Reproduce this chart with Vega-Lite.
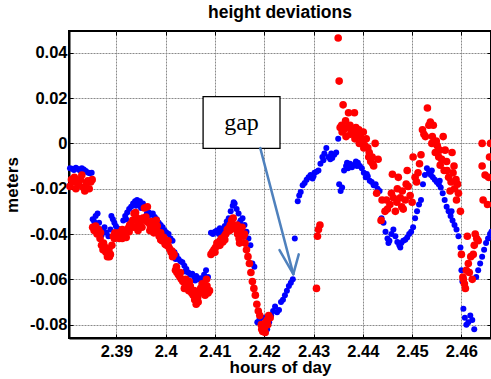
{
 "$schema": "https://vega.github.io/schema/vega-lite/v6.json",
 "width": 422, "height": 307,
 "autosize": {"type": "none"},
 "padding": {"left": 69, "top": 31, "right": 0, "bottom": 41},
 "background": "white",
 "title": {"text": "height deviations", "font": "Liberation Sans", "fontSize": 17.5, "fontWeight": "bold", "color": "#000", "anchor": "middle", "offset": -5, "baseline": "alphabetic"},
 "config": {"view": {"stroke": "#000", "strokeWidth": 2}},
 "datasets": {
  "pts": [
   {"t":2.3806,"h":-0.0110,"s":"B"},{"t":2.3810,"h":-0.0112,"s":"B"},{"t":2.3814,"h":-0.0118,"s":"B"},{"t":2.3818,"h":-0.0108,"s":"B"},{"t":2.3822,"h":-0.0113,"s":"B"},{"t":2.3826,"h":-0.0120,"s":"B"},{"t":2.3830,"h":-0.0110,"s":"B"},{"t":2.3834,"h":-0.0115,"s":"B"},{"t":2.3838,"h":-0.0122,"s":"B"},{"t":2.3842,"h":-0.0128,"s":"B"},{"t":2.3846,"h":-0.0132,"s":"B"},{"t":2.3850,"h":-0.0130,"s":"B"},
   {"t":2.3852,"h":-0.0335,"s":"B"},{"t":2.3855,"h":-0.0345,"s":"B"},{"t":2.3858,"h":-0.0320,"s":"B"},{"t":2.3862,"h":-0.0310,"s":"B"},{"t":2.3865,"h":-0.0350,"s":"B"},{"t":2.3868,"h":-0.0380,"s":"B"},{"t":2.3872,"h":-0.0385,"s":"B"},{"t":2.3876,"h":-0.0370,"s":"B"},{"t":2.3880,"h":-0.0395,"s":"B"},{"t":2.3884,"h":-0.0410,"s":"B"},{"t":2.3888,"h":-0.0380,"s":"B"},{"t":2.3890,"h":-0.0320,"s":"B"},{"t":2.3893,"h":-0.0335,"s":"B"},{"t":2.3896,"h":-0.0350,"s":"B"},{"t":2.3899,"h":-0.0365,"s":"B"},{"t":2.3902,"h":-0.0375,"s":"B"},{"t":2.3906,"h":-0.0380,"s":"B"},{"t":2.3910,"h":-0.0385,"s":"B"},{"t":2.3914,"h":-0.0340,"s":"B"},{"t":2.3918,"h":-0.0320,"s":"B"},{"t":2.3922,"h":-0.0305,"s":"B"},{"t":2.3926,"h":-0.0290,"s":"B"},{"t":2.3930,"h":-0.0280,"s":"B"},{"t":2.3934,"h":-0.0265,"s":"B"},{"t":2.3938,"h":-0.0255,"s":"B"},{"t":2.3942,"h":-0.0250,"s":"B"},{"t":2.3946,"h":-0.0270,"s":"B"},{"t":2.3950,"h":-0.0285,"s":"B"},{"t":2.3954,"h":-0.0265,"s":"B"},{"t":2.3958,"h":-0.0280,"s":"B"},{"t":2.3962,"h":-0.0310,"s":"B"},{"t":2.3966,"h":-0.0305,"s":"B"},{"t":2.3970,"h":-0.0315,"s":"B"},{"t":2.3974,"h":-0.0310,"s":"B"},{"t":2.3978,"h":-0.0325,"s":"B"},{"t":2.3982,"h":-0.0335,"s":"B"},{"t":2.3986,"h":-0.0350,"s":"B"},{"t":2.3990,"h":-0.0360,"s":"B"},{"t":2.3994,"h":-0.0370,"s":"B"},{"t":2.3998,"h":-0.0385,"s":"B"},{"t":2.4002,"h":-0.0395,"s":"B"},{"t":2.4006,"h":-0.0400,"s":"B"},{"t":2.4010,"h":-0.0420,"s":"B"},{"t":2.4014,"h":-0.0430,"s":"B"},{"t":2.4018,"h":-0.0480,"s":"B"},{"t":2.4022,"h":-0.0495,"s":"B"},{"t":2.4026,"h":-0.0510,"s":"B"},{"t":2.4030,"h":-0.0520,"s":"B"},{"t":2.4034,"h":-0.0525,"s":"B"},{"t":2.4038,"h":-0.0540,"s":"B"},{"t":2.4042,"h":-0.0555,"s":"B"},{"t":2.4046,"h":-0.0570,"s":"B"},{"t":2.4050,"h":-0.0580,"s":"B"},{"t":2.4054,"h":-0.0575,"s":"B"},{"t":2.4058,"h":-0.0590,"s":"B"},{"t":2.4062,"h":-0.0585,"s":"B"},{"t":2.4066,"h":-0.0600,"s":"B"},{"t":2.4070,"h":-0.0595,"s":"B"},{"t":2.4074,"h":-0.0610,"s":"B"},{"t":2.4078,"h":-0.0580,"s":"B"},{"t":2.4082,"h":-0.0560,"s":"B"},{"t":2.4086,"h":-0.0590,"s":"B"},
   {"t":2.3870,"h":-0.0405,"s":"B"},{"t":2.3920,"h":-0.0335,"s":"B"},{"t":2.3940,"h":-0.0275,"s":"B"},{"t":2.3948,"h":-0.0255,"s":"B"},{"t":2.3964,"h":-0.0320,"s":"B"},{"t":2.3992,"h":-0.0380,"s":"B"},{"t":2.4020,"h":-0.0510,"s":"B"},{"t":2.4040,"h":-0.0565,"s":"B"},{"t":2.4060,"h":-0.0605,"s":"B"},{"t":2.4076,"h":-0.0595,"s":"B"},
   {"t":2.4092,"h":-0.0395,"s":"B"},{"t":2.4096,"h":-0.0400,"s":"B"},{"t":2.4100,"h":-0.0390,"s":"B"},{"t":2.4104,"h":-0.0385,"s":"B"},{"t":2.4108,"h":-0.0400,"s":"B"},{"t":2.4112,"h":-0.0390,"s":"B"},{"t":2.4116,"h":-0.0380,"s":"B"},{"t":2.4120,"h":-0.0365,"s":"B"},{"t":2.4124,"h":-0.0345,"s":"B"},{"t":2.4128,"h":-0.0330,"s":"B"},{"t":2.4132,"h":-0.0300,"s":"B"},{"t":2.4136,"h":-0.0275,"s":"B"},{"t":2.4140,"h":-0.0265,"s":"B"},{"t":2.4144,"h":-0.0290,"s":"B"},{"t":2.4148,"h":-0.0310,"s":"B"},{"t":2.4152,"h":-0.0340,"s":"B"},{"t":2.4156,"h":-0.0330,"s":"B"},{"t":2.4160,"h":-0.0360,"s":"B"},{"t":2.4164,"h":-0.0390,"s":"B"},{"t":2.4168,"h":-0.0420,"s":"B"},{"t":2.4172,"h":-0.0450,"s":"B"},{"t":2.4176,"h":-0.0530,"s":"B"},{"t":2.4180,"h":-0.0545,"s":"B"},
   {"t":2.4110,"h":-0.0375,"s":"B"},{"t":2.4138,"h":-0.0260,"s":"B"},{"t":2.4150,"h":-0.0350,"s":"B"},
   {"t":2.4186,"h":-0.0790,"s":"B"},{"t":2.4190,"h":-0.0780,"s":"B"},{"t":2.4194,"h":-0.0800,"s":"B"},{"t":2.4198,"h":-0.0770,"s":"B"},{"t":2.4202,"h":-0.0810,"s":"B"},{"t":2.4206,"h":-0.0820,"s":"B"},{"t":2.4210,"h":-0.0790,"s":"B"},{"t":2.4214,"h":-0.0760,"s":"B"},{"t":2.4218,"h":-0.0740,"s":"B"},{"t":2.4222,"h":-0.0720,"s":"B"},{"t":2.4226,"h":-0.0745,"s":"B"},{"t":2.4230,"h":-0.0735,"s":"B"},{"t":2.4234,"h":-0.0700,"s":"B"},{"t":2.4238,"h":-0.0690,"s":"B"},{"t":2.4242,"h":-0.0670,"s":"B"},{"t":2.4246,"h":-0.0650,"s":"B"},{"t":2.4250,"h":-0.0630,"s":"B"},{"t":2.4254,"h":-0.0615,"s":"B"},{"t":2.4258,"h":-0.0600,"s":"B"},{"t":2.4262,"h":-0.0420,"s":"B"},
   {"t":2.4268,"h":-0.0255,"s":"B"},{"t":2.4271,"h":-0.0230,"s":"B"},{"t":2.4274,"h":-0.0215,"s":"B"},{"t":2.4278,"h":-0.0185,"s":"B"},{"t":2.4282,"h":-0.0175,"s":"B"},{"t":2.4286,"h":-0.0160,"s":"B"},{"t":2.4290,"h":-0.0150,"s":"B"},{"t":2.4294,"h":-0.0140,"s":"B"},{"t":2.4298,"h":-0.0155,"s":"B"},{"t":2.4302,"h":-0.0130,"s":"B"},{"t":2.4306,"h":-0.0125,"s":"B"},{"t":2.4310,"h":-0.0120,"s":"B"},{"t":2.4314,"h":-0.0090,"s":"B"},{"t":2.4318,"h":-0.0060,"s":"B"},{"t":2.4322,"h":-0.0045,"s":"B"},{"t":2.4326,"h":-0.0020,"s":"B"},{"t":2.4330,"h":-0.0060,"s":"B"},{"t":2.4334,"h":-0.0070,"s":"B"},{"t":2.4338,"h":-0.0065,"s":"B"},{"t":2.4342,"h":-0.0050,"s":"B"},{"t":2.4346,"h":-0.0040,"s":"B"},{"t":2.4350,"h":0.0020,"s":"B"},{"t":2.4352,"h":-0.0180,"s":"B"},{"t":2.4355,"h":-0.0210,"s":"B"},{"t":2.4358,"h":-0.0195,"s":"B"},{"t":2.4362,"h":-0.0120,"s":"B"},{"t":2.4366,"h":-0.0100,"s":"B"},{"t":2.4370,"h":-0.0110,"s":"B"},{"t":2.4374,"h":-0.0090,"s":"B"},{"t":2.4378,"h":-0.0105,"s":"B"},{"t":2.4382,"h":-0.0095,"s":"B"},{"t":2.4386,"h":-0.0080,"s":"B"},{"t":2.4390,"h":-0.0085,"s":"B"},{"t":2.4394,"h":-0.0100,"s":"B"},{"t":2.4398,"h":-0.0110,"s":"B"},{"t":2.4402,"h":-0.0130,"s":"B"},{"t":2.4406,"h":-0.0150,"s":"B"},{"t":2.4410,"h":-0.0145,"s":"B"},{"t":2.4414,"h":-0.0165,"s":"B"},{"t":2.4418,"h":-0.0170,"s":"B"},{"t":2.4422,"h":-0.0185,"s":"B"},{"t":2.4426,"h":-0.0180,"s":"B"},{"t":2.4430,"h":-0.0200,"s":"B"},{"t":2.4434,"h":-0.0210,"s":"B"},
   {"t":2.4300,"h":-0.0145,"s":"B"},{"t":2.4320,"h":-0.0075,"s":"B"},{"t":2.4336,"h":-0.0045,"s":"B"},{"t":2.4368,"h":-0.0085,"s":"B"},{"t":2.4388,"h":-0.0100,"s":"B"},{"t":2.4408,"h":-0.0135,"s":"B"},
   {"t":2.4438,"h":-0.0330,"s":"B"},{"t":2.4442,"h":-0.0350,"s":"B"},{"t":2.4446,"h":-0.0390,"s":"B"},{"t":2.4450,"h":-0.0420,"s":"B"},{"t":2.4454,"h":-0.0430,"s":"B"},{"t":2.4458,"h":-0.0400,"s":"B"},{"t":2.4462,"h":-0.0380,"s":"B"},{"t":2.4466,"h":-0.0410,"s":"B"},{"t":2.4470,"h":-0.0435,"s":"B"},{"t":2.4474,"h":-0.0450,"s":"B"},{"t":2.4478,"h":-0.0440,"s":"B"},{"t":2.4482,"h":-0.0430,"s":"B"},{"t":2.4486,"h":-0.0425,"s":"B"},{"t":2.4490,"h":-0.0415,"s":"B"},{"t":2.4494,"h":-0.0400,"s":"B"},{"t":2.4498,"h":-0.0390,"s":"B"},{"t":2.4502,"h":-0.0370,"s":"B"},{"t":2.4506,"h":-0.0330,"s":"B"},{"t":2.4510,"h":-0.0300,"s":"B"},{"t":2.4514,"h":-0.0270,"s":"B"},{"t":2.4518,"h":-0.0250,"s":"B"},{"t":2.4522,"h":-0.0180,"s":"B"},{"t":2.4526,"h":-0.0140,"s":"B"},{"t":2.4530,"h":-0.0110,"s":"B"},{"t":2.4534,"h":-0.0130,"s":"B"},{"t":2.4538,"h":-0.0140,"s":"B"},{"t":2.4542,"h":-0.0150,"s":"B"},{"t":2.4546,"h":-0.0160,"s":"B"},{"t":2.4550,"h":-0.0170,"s":"B"},{"t":2.4554,"h":-0.0180,"s":"B"},{"t":2.4558,"h":-0.0195,"s":"B"},{"t":2.4562,"h":-0.0220,"s":"B"},{"t":2.4566,"h":-0.0250,"s":"B"},{"t":2.4570,"h":-0.0280,"s":"B"},{"t":2.4574,"h":-0.0300,"s":"B"},{"t":2.4578,"h":-0.0320,"s":"B"},{"t":2.4582,"h":-0.0340,"s":"B"},{"t":2.4586,"h":-0.0360,"s":"B"},{"t":2.4590,"h":-0.0380,"s":"B"},{"t":2.4594,"h":-0.0410,"s":"B"},{"t":2.4598,"h":-0.0460,"s":"B"},{"t":2.4600,"h":-0.0560,"s":"B"},{"t":2.4602,"h":-0.0610,"s":"B"},{"t":2.4604,"h":-0.0730,"s":"B"},{"t":2.4607,"h":-0.0770,"s":"B"},{"t":2.4610,"h":-0.0800,"s":"B"},{"t":2.4614,"h":-0.0790,"s":"B"},{"t":2.4618,"h":-0.0760,"s":"B"},{"t":2.4622,"h":-0.0780,"s":"B"},{"t":2.4626,"h":-0.0820,"s":"B"},{"t":2.4630,"h":-0.0590,"s":"B"},{"t":2.4634,"h":-0.0560,"s":"B"},{"t":2.4638,"h":-0.0530,"s":"B"},{"t":2.4642,"h":-0.0500,"s":"B"},{"t":2.4646,"h":-0.0470,"s":"B"},{"t":2.4650,"h":-0.0440,"s":"B"},{"t":2.4654,"h":-0.0420,"s":"B"},{"t":2.4658,"h":-0.0400,"s":"B"},{"t":2.4661,"h":-0.0390,"s":"B"},
   {"t":2.4452,"h":-0.0440,"s":"B"},{"t":2.4476,"h":-0.0460,"s":"B"},{"t":2.4540,"h":-0.0120,"s":"B"},{"t":2.4556,"h":-0.0165,"s":"B"},{"t":2.4580,"h":-0.0300,"s":"B"},
   {"t":2.3806,"h":-0.0190,"s":"R"},{"t":2.3809,"h":-0.0160,"s":"R"},{"t":2.3812,"h":-0.0170,"s":"R"},{"t":2.3815,"h":-0.0150,"s":"R"},{"t":2.3818,"h":-0.0200,"s":"R"},{"t":2.3821,"h":-0.0175,"s":"R"},{"t":2.3824,"h":-0.0185,"s":"R"},{"t":2.3827,"h":-0.0160,"s":"R"},{"t":2.3830,"h":-0.0140,"s":"R"},{"t":2.3833,"h":-0.0195,"s":"R"},{"t":2.3836,"h":-0.0210,"s":"R"},{"t":2.3839,"h":-0.0175,"s":"R"},{"t":2.3842,"h":-0.0165,"s":"R"},{"t":2.3845,"h":-0.0200,"s":"R"},{"t":2.3848,"h":-0.0170,"s":"R"},{"t":2.3851,"h":-0.0160,"s":"R"},
   {"t":2.3852,"h":-0.0370,"s":"R"},{"t":2.3855,"h":-0.0385,"s":"R"},{"t":2.3858,"h":-0.0365,"s":"R"},{"t":2.3861,"h":-0.0400,"s":"R"},{"t":2.3864,"h":-0.0380,"s":"R"},{"t":2.3867,"h":-0.0420,"s":"R"},{"t":2.3870,"h":-0.0450,"s":"R"},{"t":2.3873,"h":-0.0470,"s":"R"},{"t":2.3876,"h":-0.0455,"s":"R"},{"t":2.3879,"h":-0.0480,"s":"R"},{"t":2.3882,"h":-0.0500,"s":"R"},{"t":2.3885,"h":-0.0470,"s":"R"},{"t":2.3888,"h":-0.0490,"s":"R"},{"t":2.3891,"h":-0.0450,"s":"R"},{"t":2.3894,"h":-0.0410,"s":"R"},{"t":2.3897,"h":-0.0395,"s":"R"},{"t":2.3900,"h":-0.0400,"s":"R"},{"t":2.3903,"h":-0.0415,"s":"R"},{"t":2.3906,"h":-0.0420,"s":"R"},{"t":2.3909,"h":-0.0405,"s":"R"},{"t":2.3912,"h":-0.0380,"s":"R"},{"t":2.3915,"h":-0.0395,"s":"R"},{"t":2.3918,"h":-0.0410,"s":"R"},{"t":2.3921,"h":-0.0390,"s":"R"},{"t":2.3924,"h":-0.0375,"s":"R"},{"t":2.3927,"h":-0.0360,"s":"R"},{"t":2.3930,"h":-0.0355,"s":"R"},{"t":2.3933,"h":-0.0340,"s":"R"},{"t":2.3936,"h":-0.0310,"s":"R"},{"t":2.3939,"h":-0.0305,"s":"R"},{"t":2.3942,"h":-0.0330,"s":"R"},{"t":2.3945,"h":-0.0350,"s":"R"},{"t":2.3948,"h":-0.0360,"s":"R"},{"t":2.3951,"h":-0.0340,"s":"R"},{"t":2.3954,"h":-0.0330,"s":"R"},{"t":2.3957,"h":-0.0285,"s":"R"},{"t":2.3960,"h":-0.0325,"s":"R"},{"t":2.3963,"h":-0.0280,"s":"R"},{"t":2.3966,"h":-0.0350,"s":"R"},{"t":2.3969,"h":-0.0365,"s":"R"},{"t":2.3972,"h":-0.0345,"s":"R"},{"t":2.3975,"h":-0.0380,"s":"R"},{"t":2.3978,"h":-0.0360,"s":"R"},{"t":2.3981,"h":-0.0340,"s":"R"},{"t":2.3984,"h":-0.0390,"s":"R"},{"t":2.3987,"h":-0.0410,"s":"R"},{"t":2.3990,"h":-0.0425,"s":"R"},{"t":2.3993,"h":-0.0430,"s":"R"},{"t":2.3996,"h":-0.0415,"s":"R"},{"t":2.3999,"h":-0.0445,"s":"R"},{"t":2.4002,"h":-0.0450,"s":"R"},{"t":2.4005,"h":-0.0430,"s":"R"},{"t":2.4008,"h":-0.0465,"s":"R"},{"t":2.4011,"h":-0.0480,"s":"R"},{"t":2.4014,"h":-0.0500,"s":"R"},{"t":2.4017,"h":-0.0490,"s":"R"},{"t":2.4020,"h":-0.0560,"s":"R"},{"t":2.4023,"h":-0.0570,"s":"R"},{"t":2.4026,"h":-0.0580,"s":"R"},{"t":2.4029,"h":-0.0590,"s":"R"},{"t":2.4032,"h":-0.0600,"s":"R"},{"t":2.4035,"h":-0.0610,"s":"R"},{"t":2.4038,"h":-0.0640,"s":"R"},{"t":2.4041,"h":-0.0600,"s":"R"},{"t":2.4044,"h":-0.0620,"s":"R"},{"t":2.4047,"h":-0.0650,"s":"R"},{"t":2.4050,"h":-0.0630,"s":"R"},{"t":2.4053,"h":-0.0660,"s":"R"},{"t":2.4056,"h":-0.0670,"s":"R"},{"t":2.4059,"h":-0.0690,"s":"R"},{"t":2.4062,"h":-0.0710,"s":"R"},{"t":2.4065,"h":-0.0680,"s":"R"},{"t":2.4068,"h":-0.0660,"s":"R"},{"t":2.4071,"h":-0.0640,"s":"R"},{"t":2.4074,"h":-0.0620,"s":"R"},{"t":2.4077,"h":-0.0650,"s":"R"},{"t":2.4080,"h":-0.0670,"s":"R"},{"t":2.4083,"h":-0.0600,"s":"R"},{"t":2.4086,"h":-0.0660,"s":"R"},{"t":2.4089,"h":-0.0650,"s":"R"},
   {"t":2.4092,"h":-0.0490,"s":"R"},{"t":2.4095,"h":-0.0480,"s":"R"},{"t":2.4098,"h":-0.0470,"s":"R"},{"t":2.4101,"h":-0.0460,"s":"R"},{"t":2.4104,"h":-0.0440,"s":"R"},{"t":2.4107,"h":-0.0445,"s":"R"},{"t":2.4110,"h":-0.0430,"s":"R"},{"t":2.4113,"h":-0.0420,"s":"R"},{"t":2.4116,"h":-0.0435,"s":"R"},{"t":2.4119,"h":-0.0410,"s":"R"},{"t":2.4122,"h":-0.0400,"s":"R"},{"t":2.4125,"h":-0.0380,"s":"R"},{"t":2.4128,"h":-0.0375,"s":"R"},{"t":2.4131,"h":-0.0360,"s":"R"},{"t":2.4134,"h":-0.0340,"s":"R"},{"t":2.4137,"h":-0.0330,"s":"R"},{"t":2.4140,"h":-0.0365,"s":"R"},{"t":2.4143,"h":-0.0380,"s":"R"},{"t":2.4146,"h":-0.0400,"s":"R"},{"t":2.4149,"h":-0.0420,"s":"R"},{"t":2.4152,"h":-0.0395,"s":"R"},{"t":2.4155,"h":-0.0370,"s":"R"},{"t":2.4158,"h":-0.0410,"s":"R"},{"t":2.4161,"h":-0.0440,"s":"R"},{"t":2.4164,"h":-0.0470,"s":"R"},{"t":2.4167,"h":-0.0500,"s":"R"},{"t":2.4170,"h":-0.0530,"s":"R"},{"t":2.4173,"h":-0.0570,"s":"R"},{"t":2.4176,"h":-0.0610,"s":"R"},{"t":2.4179,"h":-0.0640,"s":"R"},{"t":2.4182,"h":-0.0670,"s":"R"},{"t":2.4185,"h":-0.0710,"s":"R"},{"t":2.4188,"h":-0.0740,"s":"R"},{"t":2.4191,"h":-0.0760,"s":"R"},{"t":2.4194,"h":-0.0800,"s":"R"},{"t":2.4197,"h":-0.0830,"s":"R"},{"t":2.4200,"h":-0.0815,"s":"R"},{"t":2.4203,"h":-0.0790,"s":"R"},{"t":2.4206,"h":-0.0780,"s":"R"},{"t":2.4209,"h":-0.0760,"s":"R"},{"t":2.4212,"h":-0.0770,"s":"R"},
   {"t":2.4306,"h":-0.0640,"s":"R"},{"t":2.4308,"h":-0.0410,"s":"R"},{"t":2.4310,"h":-0.0380,"s":"R"},{"t":2.4313,"h":-0.0360,"s":"R"},{"t":2.4350,"h":0.0465,"s":"R"},{"t":2.4352,"h":0.0275,"s":"R"},{"t":2.4354,"h":0.0070,"s":"R"},{"t":2.4357,"h":0.0080,"s":"R"},{"t":2.4360,"h":0.0170,"s":"R"},{"t":2.4362,"h":0.0060,"s":"R"},{"t":2.4365,"h":0.0100,"s":"R"},{"t":2.4368,"h":0.0070,"s":"R"},{"t":2.4371,"h":0.0135,"s":"R"},{"t":2.4374,"h":0.0080,"s":"R"},{"t":2.4377,"h":0.0060,"s":"R"},{"t":2.4380,"h":0.0050,"s":"R"},{"t":2.4383,"h":0.0135,"s":"R"},{"t":2.4386,"h":0.0070,"s":"R"},{"t":2.4389,"h":0.0040,"s":"R"},{"t":2.4392,"h":0.0060,"s":"R"},{"t":2.4395,"h":0.0030,"s":"R"},{"t":2.4398,"h":0.0010,"s":"R"},{"t":2.4401,"h":0.0050,"s":"R"},{"t":2.4404,"h":-0.0010,"s":"R"},{"t":2.4407,"h":0.0020,"s":"R"},{"t":2.4410,"h":-0.0020,"s":"R"},{"t":2.4413,"h":-0.0040,"s":"R"},{"t":2.4416,"h":-0.0080,"s":"R"},{"t":2.4419,"h":-0.0060,"s":"R"},{"t":2.4422,"h":-0.0100,"s":"R"},{"t":2.4425,"h":0.0000,"s":"R"},{"t":2.4428,"h":-0.0220,"s":"R"},{"t":2.4431,"h":-0.0070,"s":"R"},
   {"t":2.4437,"h":-0.0340,"s":"R"},{"t":2.4439,"h":-0.0250,"s":"R"},{"t":2.4445,"h":-0.0300,"s":"R"},{"t":2.4450,"h":-0.0290,"s":"R"},{"t":2.4455,"h":-0.0270,"s":"R"},{"t":2.4460,"h":-0.0136,"s":"R"},{"t":2.4462,"h":-0.0240,"s":"R"},{"t":2.4466,"h":-0.0300,"s":"R"},{"t":2.4469,"h":-0.0260,"s":"R"},{"t":2.4472,"h":-0.0150,"s":"R"},{"t":2.4476,"h":-0.0240,"s":"R"},{"t":2.4479,"h":-0.0280,"s":"R"},{"t":2.4482,"h":-0.0290,"s":"R"},{"t":2.4486,"h":-0.0250,"s":"R"},{"t":2.4490,"h":-0.0120,"s":"R"},{"t":2.4492,"h":-0.0190,"s":"R"},{"t":2.4496,"h":-0.0230,"s":"R"},{"t":2.4500,"h":-0.0260,"s":"R"},{"t":2.4502,"h":-0.0060,"s":"R"},{"t":2.4506,"h":-0.0150,"s":"R"},{"t":2.4509,"h":-0.0170,"s":"R"},{"t":2.4512,"h":-0.0130,"s":"R"},{"t":2.4515,"h":-0.0090,"s":"R"},{"t":2.4518,"h":-0.0050,"s":"R"},{"t":2.4521,"h":0.0060,"s":"R"},{"t":2.4524,"h":0.0040,"s":"R"},{"t":2.4527,"h":0.0030,"s":"R"},{"t":2.4531,"h":0.0156,"s":"R"},{"t":2.4534,"h":0.0080,"s":"R"},{"t":2.4537,"h":0.0094,"s":"R"},{"t":2.4541,"h":0.0030,"s":"R"},{"t":2.4543,"h":0.0080,"s":"R"},{"t":2.4547,"h":-0.0040,"s":"R"},{"t":2.4549,"h":0.0010,"s":"R"},{"t":2.4551,"h":-0.0010,"s":"R"},{"t":2.4554,"h":-0.0060,"s":"R"},{"t":2.4557,"h":-0.0096,"s":"R"},{"t":2.4560,"h":-0.0070,"s":"R"},{"t":2.4563,"h":0.0030,"s":"R"},{"t":2.4565,"h":-0.0120,"s":"R"},{"t":2.4567,"h":-0.0030,"s":"R"},{"t":2.4571,"h":-0.0120,"s":"R"},{"t":2.4574,"h":-0.0150,"s":"R"},{"t":2.4577,"h":-0.0210,"s":"R"},{"t":2.4579,"h":-0.0170,"s":"R"},{"t":2.4581,"h":-0.0040,"s":"R"},{"t":2.4583,"h":-0.0130,"s":"R"},{"t":2.4586,"h":-0.0200,"s":"R"},{"t":2.4589,"h":-0.0160,"s":"R"},{"t":2.4592,"h":-0.0180,"s":"R"},{"t":2.4594,"h":-0.0220,"s":"R"},{"t":2.4598,"h":-0.0300,"s":"R"},{"t":2.4600,"h":-0.0490,"s":"R"},{"t":2.4603,"h":-0.0590,"s":"R"},{"t":2.4604,"h":-0.0600,"s":"R"},{"t":2.4606,"h":-0.0620,"s":"R"},{"t":2.4608,"h":-0.0640,"s":"R"},{"t":2.4610,"h":-0.0560,"s":"R"},{"t":2.4612,"h":-0.0410,"s":"R"},{"t":2.4614,"h":-0.0530,"s":"R"},{"t":2.4616,"h":-0.0570,"s":"R"},{"t":2.4619,"h":-0.0500,"s":"R"},{"t":2.4622,"h":-0.0600,"s":"R"},{"t":2.4624,"h":-0.0490,"s":"R"},{"t":2.4626,"h":-0.0450,"s":"R"},{"t":2.4628,"h":-0.0400,"s":"R"},{"t":2.4631,"h":-0.0420,"s":"R"},{"t":2.4634,"h":-0.0430,"s":"R"},{"t":2.4642,"h":0.0000,"s":"R"},{"t":2.4642,"h":-0.0100,"s":"R"},{"t":2.4644,"h":-0.0250,"s":"R"},{"t":2.4648,"h":-0.0140,"s":"R"},{"t":2.4653,"h":-0.0270,"s":"R"},{"t":2.4655,"h":-0.0150,"s":"R"},{"t":2.4657,"h":-0.0060,"s":"R"},{"t":2.4659,"h":0.0000,"s":"R"},
   {"t":2.3868,"h":-0.0395,"s":"R"},{"t":2.3874,"h":-0.0440,"s":"R"},{"t":2.3880,"h":-0.0465,"s":"R"},{"t":2.3886,"h":-0.0500,"s":"R"},{"t":2.3896,"h":-0.0420,"s":"R"},{"t":2.3905,"h":-0.0395,"s":"R"},{"t":2.3912,"h":-0.0420,"s":"R"},{"t":2.3920,"h":-0.0415,"s":"R"},{"t":2.3926,"h":-0.0390,"s":"R"},{"t":2.3935,"h":-0.0370,"s":"R"},{"t":2.3944,"h":-0.0385,"s":"R"},{"t":2.3952,"h":-0.0370,"s":"R"},{"t":2.3962,"h":-0.0345,"s":"R"},{"t":2.3968,"h":-0.0385,"s":"R"},{"t":2.3976,"h":-0.0395,"s":"R"},{"t":2.3983,"h":-0.0365,"s":"R"},{"t":2.3990,"h":-0.0395,"s":"R"},{"t":2.3998,"h":-0.0425,"s":"R"},{"t":2.4006,"h":-0.0455,"s":"R"},{"t":2.4013,"h":-0.0475,"s":"R"},{"t":2.4022,"h":-0.0545,"s":"R"},{"t":2.4030,"h":-0.0570,"s":"R"},{"t":2.4040,"h":-0.0620,"s":"R"},{"t":2.4048,"h":-0.0610,"s":"R"},{"t":2.4058,"h":-0.0650,"s":"R"},{"t":2.4066,"h":-0.0700,"s":"R"},{"t":2.4075,"h":-0.0660,"s":"R"},{"t":2.4084,"h":-0.0630,"s":"R"},
   {"t":2.4100,"h":-0.0480,"s":"R"},{"t":2.4110,"h":-0.0450,"s":"R"},{"t":2.4120,"h":-0.0425,"s":"R"},{"t":2.4130,"h":-0.0385,"s":"R"},{"t":2.4145,"h":-0.0360,"s":"R"},{"t":2.4150,"h":-0.0440,"s":"R"},{"t":2.4160,"h":-0.0400,"s":"R"},{"t":2.4195,"h":-0.0820,"s":"R"},{"t":2.4202,"h":-0.0835,"s":"R"},{"t":2.4207,"h":-0.0800,"s":"R"},
   {"t":2.4358,"h":0.0050,"s":"R"},{"t":2.4366,"h":0.0030,"s":"R"},{"t":2.4375,"h":0.0040,"s":"R"},{"t":2.4384,"h":0.0020,"s":"R"},{"t":2.4393,"h":0.0000,"s":"R"},{"t":2.4402,"h":-0.0020,"s":"R"},{"t":2.4412,"h":-0.0060,"s":"R"},{"t":2.4420,"h":-0.0090,"s":"R"},
   {"t":2.4448,"h":-0.0250,"s":"R"},{"t":2.4458,"h":-0.0220,"s":"R"},{"t":2.4470,"h":-0.0200,"s":"R"},{"t":2.4480,"h":-0.0210,"s":"R"},{"t":2.4488,"h":-0.0180,"s":"R"},{"t":2.4540,"h":0.0000,"s":"R"},{"t":2.4556,"h":-0.0030,"s":"R"},{"t":2.4570,"h":-0.0080,"s":"R"},{"t":2.4585,"h":-0.0100,"s":"R"},{"t":2.4590,"h":-0.0250,"s":"R"}
  ],
  "box": [{"x1": 2.4076, "x2": 2.4232, "y1": 0.0206, "y2": -0.0022, "label": "gap", "tx": 2.4154, "ty": 0.0059}],
  "arrow": [
   {"x1": 2.4192, "y1": -0.0021, "x2": 2.4259, "y2": -0.0577},
   {"x1": 2.4231, "y1": -0.0471, "x2": 2.4259, "y2": -0.0577},
   {"x1": 2.4270, "y1": -0.0490, "x2": 2.4259, "y2": -0.0577}
  ]
 },
 "resolve": {"axis": {"x": "independent", "y": "independent"}},
 "layer": [
  {
   "data": {"name": "pts"},
   "mark": {"type": "circle", "opacity": 1},
   "encoding": {
    "x": {"field": "t", "type": "quantitative", "scale": {"domain": [2.3804, 2.466], "nice": false, "zero": false},
     "axis": {"orient": "bottom", "values": [2.39, 2.4, 2.41, 2.42, 2.43, 2.44, 2.45, 2.46], "labelExpr": "toString(round(datum.value*100)/100)", "title": "hours of day", "grid": true, "gridColor": "#8a8a8a", "gridDash": [2, 1], "gridWidth": 1, "domainColor": "#000", "domainWidth": 2, "tickColor": "#000", "tickSize": -4, "tickWidth": 1, "labelFont": "Liberation Sans", "labelFontSize": 16.5, "labelFontWeight": "bold", "labelColor": "#000", "labelPadding": 9, "labelFlush": false, "labelOverlap": false, "titleFont": "Liberation Sans", "titleFontSize": 17, "titleFontWeight": "bold", "titleColor": "#000", "titlePadding": 0}},
    "y": {"field": "h", "type": "quantitative", "scale": {"domain": [-0.0859, 0.0496], "nice": false, "zero": false},
     "axis": {"orient": "left", "values": [-0.08, -0.06, -0.04, -0.02, 0, 0.02, 0.04], "labelExpr": "toString(round(datum.value*100)/100)", "title": "meters", "grid": true, "gridColor": "#8a8a8a", "gridDash": [2, 1], "gridWidth": 1, "domainColor": "#000", "domainWidth": 2, "tickColor": "#000", "tickSize": -4, "tickWidth": 1, "labelFont": "Liberation Sans", "labelFontSize": 16.5, "labelFontWeight": "bold", "labelColor": "#000", "labelPadding": 6, "labelFlush": false, "labelOverlap": false, "titleFont": "Liberation Sans", "titleFontSize": 17, "titleFontWeight": "bold", "titleColor": "#000", "titlePadding": 8}},
    "color": {"field": "s", "type": "nominal", "scale": {"domain": ["B", "R"], "range": ["#0000ff", "#ff0000"]}, "legend": null},
    "size": {"field": "s", "type": "ordinal", "scale": {"domain": ["B", "R"], "range": [36, 58]}, "legend": null}
   }
  },
  {
   "data": {"name": "box"},
   "mark": {"type": "rect", "fill": "white", "stroke": "#000", "strokeWidth": 1.3},
   "encoding": {
    "x": {"field": "x1", "type": "quantitative", "scale": {"domain": [2.3804, 2.466], "nice": false, "zero": false},
     "axis": {"orient": "top", "values": [2.39, 2.4, 2.41, 2.42, 2.43, 2.44, 2.45, 2.46], "labels": false, "grid": false, "domain": false, "tickColor": "#000", "tickSize": -4, "tickWidth": 1, "title": null}},
    "x2": {"field": "x2"},
    "y": {"field": "y1", "type": "quantitative", "scale": {"domain": [-0.0859, 0.0496], "nice": false, "zero": false},
     "axis": {"orient": "right", "values": [-0.08, -0.06, -0.04, -0.02, 0, 0.02, 0.04], "labels": false, "grid": false, "domain": false, "tickColor": "#000", "tickSize": -4, "tickWidth": 1, "title": null}},
    "y2": {"field": "y2"}
   }
  },
  {
   "data": {"name": "box"},
   "mark": {"type": "text", "font": "Liberation Serif", "fontSize": 24, "align": "center", "baseline": "alphabetic", "color": "#000"},
   "encoding": {
    "x": {"field": "tx", "type": "quantitative", "axis": null},
    "y": {"field": "ty", "type": "quantitative", "axis": null},
    "text": {"field": "label"}
   }
  },
  {
   "data": {"name": "arrow"},
   "mark": {"type": "rule", "color": "#4f81bd", "strokeWidth": 2.5, "strokeCap": "round"},
   "encoding": {
    "x": {"field": "x1", "type": "quantitative", "axis": null},
    "y": {"field": "y1", "type": "quantitative", "axis": null},
    "x2": {"field": "x2"},
    "y2": {"field": "y2"}
   }
  }
 ]
}
